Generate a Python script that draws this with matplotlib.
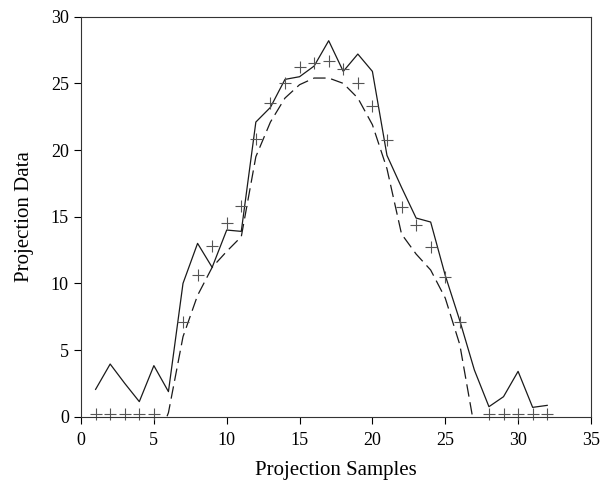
import numpy as np
import matplotlib
matplotlib.use("Agg")
import matplotlib.pyplot as plt

plt.rcParams["font.family"] = ["Liberation Serif", "DejaVu Serif"]
plt.rcParams["font.size"] = 13

# measured projection (solid), samples 1..32
samples = np.arange(1, 33)
measured = [2.05, 3.95, 2.5, 1.13, 3.83, 1.88, 10.0, 13.0, 11.2, 14.0,
            13.9, 22.1, 23.2, 25.3, 25.5, 26.3, 28.2, 25.9, 27.2, 25.9,
            19.6, 17.2, 14.9, 14.6, 10.6, 7.2, 3.5, 0.75, 1.5, 3.4,
            0.7, 0.85]

# smooth projection (dashed), samples 5..27 (ends are clipped at 0)
smooth_x = np.arange(5, 28)
smooth = [-2.5, 0.3, 6.0, 9.1, 11.2, 12.4, 13.5, 19.5, 22.1, 23.9,
          24.9, 25.4, 25.4, 25.0, 23.9, 21.9, 18.6, 13.7, 12.2, 11.0,
          8.9, 5.4, -0.8]

# reconstructed projection (+), missing at samples 6 and 27
recon = [0.2, 0.2, 0.2, 0.2, 0.2, np.nan, 7.13, 10.6, 12.8, 14.5,
         15.8, 20.8, 23.5, 25.0, 26.2, 26.55, 26.7, 26.06, 25.06, 23.3,
         20.76, 15.7, 14.4, 12.75, 10.46, 7.08, np.nan, 0.2, 0.2, 0.2,
         0.2, 0.2]

fig = plt.figure(figsize=(6.02, 4.86), dpi=100)
ax = fig.add_axes([0.1346, 0.1426, 0.847, 0.823])

ax.plot(samples, measured, color="#1a1a1a", lw=0.9)
ax.plot(smooth_x, smooth, color="#1a1a1a", lw=0.9, dashes=(10, 4.5))
ax.plot(samples, recon, ls="none", marker="+", ms=8, mew=0.8,
        color="#555555", clip_on=False)

ax.set_xlim(0, 35)
ax.set_ylim(0, 30)
ax.set_xticks(range(0, 36, 5))
ax.set_yticks(range(0, 31, 5))
ax.tick_params(direction="out", length=4.8, width=0.8, top=False,
               right=False)
ax.tick_params(axis="x", pad=6)
ax.tick_params(axis="y", pad=4)
for s in ax.spines.values():
    s.set_linewidth(0.8)
    s.set_color("#333333")

ax.set_xlabel("Projection Samples", fontsize=15, labelpad=9)
ax.set_ylabel("Projection Data", fontsize=15, labelpad=12)

fig.savefig("out.png", dpi=100)
